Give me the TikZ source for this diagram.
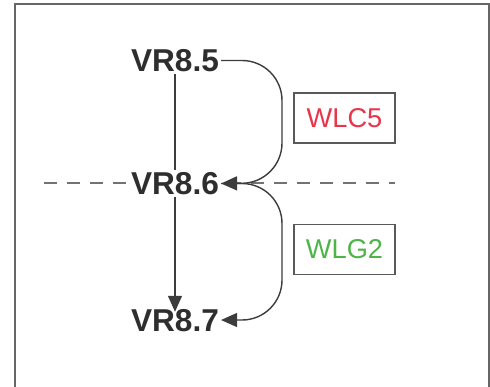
\documentclass[tikz,border=0pt]{standalone}
\usepackage{fontspec}
\setmainfont{Liberation Sans}
\usetikzlibrary{arrows.meta}
\definecolor{wlcred}{HTML}{E8354B}
\definecolor{wlggreen}{HTML}{4DB548}
\definecolor{linegray}{HTML}{3C3C3C}
\begin{document}
\begin{tikzpicture}[x=0.02cm,y=-0.02cm,
	version/.style={font=\fontsize{18}{20}\selectfont\bfseries,text=black!82,inner sep=1pt,text height=13pt,text depth=0pt},
	tag/.style={draw=black!65,line width=1.1pt,minimum width=2.02cm,minimum height=1cm,font=\fontsize{15.5}{18}\selectfont},
	link/.style={draw=linegray,line width=0.8pt,-{Triangle[length=0.32cm,width=0.28cm]}}]
	\useasboundingbox (0,0) rectangle (490,386);
	\clip (0,0) rectangle (490,386);
	\draw[black!60,line width=1.1pt] (15,4) rectangle (489,420);
	\draw[black!55,line width=1.1pt,dash pattern=on 7.4pt off 5.7pt] (44,183) -- (395,183);
	\node[version] (v85) at (175,60.5) {VR8.5};
	\node[version] (v87) at (175,320) {VR8.7};
	\draw[link,shorten >=-3pt] (v85.south) -- (v87.north);
	\node[version,fill=white] (v86) at (175,183.5) {VR8.6};
	\node[tag,text=wlcred] (wlc5) at (344.5,118) {WLC5};
	\node[tag,text=wlggreen] (wlg2) at (344.5,249.5) {WLG2};
	\coordinate (turn1) at (282,183);
	\coordinate (turn2) at (282,320);
	\draw[link,rounded corners=0.8cm] (v85.east) -| (turn1) -- (v86.east);
	\draw[link,rounded corners=0.8cm] (v86.east) -| (turn2) -- (v87.east);
\end{tikzpicture}
\end{document}
